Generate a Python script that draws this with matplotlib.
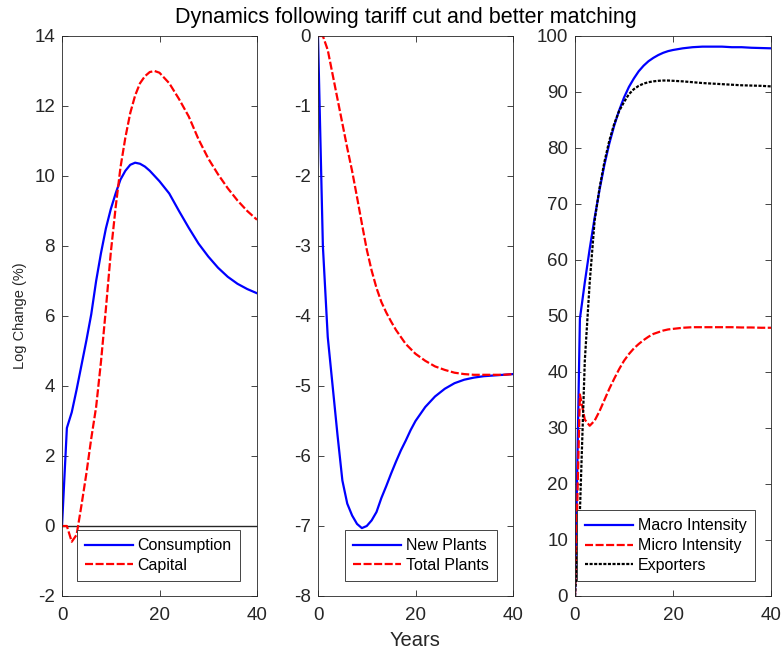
import matplotlib
matplotlib.use('Agg')
import matplotlib.pyplot as plt

plt.rcParams['font.family'] = ['Liberation Sans', 'DejaVu Sans']
plt.rcParams['axes.unicode_minus'] = False
plt.rcParams['lines.scale_dashes'] = False

# years after the tariff cut
years = [0, 1, 2, 3, 4, 5, 6, 7, 8, 9, 10, 11, 12, 13, 14, 15, 16, 17, 18, 19, 20,
         22, 24, 26, 28, 30, 32, 34, 36, 38, 40]

# panel 1
consumption = [0, 2.8, 3.25, 3.9, 4.6, 5.3, 6.05, 7.0, 7.8, 8.5, 9.05, 9.5, 9.9, 10.15, 10.32,
               10.38, 10.35, 10.27, 10.15, 10.0, 9.85, 9.5, 9.0, 8.52, 8.07, 7.7, 7.38, 7.12,
               6.92, 6.77, 6.65]
capital = [0, 0, -0.45, -0.25, 0.6, 1.5, 2.5, 3.4, 4.7, 6.2, 7.8, 9.1, 10.25, 11.1, 11.8,
           12.3, 12.65, 12.85, 12.97, 13.0, 12.95, 12.65, 12.2, 11.7, 11.05, 10.5, 10.05,
           9.65, 9.3, 9.0, 8.75]

# panel 2
new_plants = [0, -3.0, -4.3, -5.0, -5.7, -6.35, -6.68, -6.85, -6.97, -7.03, -7.0, -6.92, -6.8,
              -6.6, -6.43, -6.25, -6.08, -5.92, -5.78, -5.63, -5.5, -5.3, -5.15, -5.04, -4.96,
              -4.91, -4.88, -4.86, -4.85, -4.84, -4.83]
total_plants = [0, 0, -0.2, -0.55, -0.9, -1.25, -1.6, -1.93, -2.3, -2.68, -3.05, -3.35, -3.6,
                -3.8, -3.95, -4.08, -4.2, -4.3, -4.4, -4.47, -4.54, -4.64, -4.72, -4.77, -4.81,
                -4.83, -4.84, -4.84, -4.84, -4.84, -4.83]

# panel 3
macro_intensity = [0, 49.5, 56, 62, 67.5, 72.5, 77, 80.8, 84, 86.7, 89.0, 90.9, 92.4, 93.7, 94.7,
                   95.5, 96.1, 96.6, 97.0, 97.3, 97.5, 97.8, 98.0, 98.1, 98.1, 98.1, 98.0, 98.0,
                   97.9, 97.85, 97.8]
micro_intensity = [0, 36, 31.5, 30.4, 31.3, 33.0, 35.0, 37.0, 38.8, 40.5, 42.0, 43.2, 44.2, 45.0,
                   45.7, 46.3, 46.8, 47.1, 47.4, 47.6, 47.7, 47.9, 48.0, 48.0, 48.0, 48.0, 48.0,
                   47.95, 47.95, 47.9, 47.9]
exporters = [0, 15, 42, 56, 67, 72.8, 77.5, 81.3, 84.3, 86.6, 88.2, 89.6, 90.5, 91.1, 91.5,
             91.75, 91.9, 92.0, 92.05, 92.05, 92.0, 91.9, 91.75, 91.6, 91.5, 91.4, 91.3, 91.2,
             91.15, 91.1, 91.0]

W, H = 782, 656
axis_col = '0.15'
dash = (0, (5.8, 1.8))
dot = (0, (2.2, 1.1))
lw = 1.6

fig = plt.figure(figsize=(W / 100, H / 100), dpi=100)


def make_axes(left_px, width_px):
    ax = fig.add_axes([left_px / W, (H - 596) / H, width_px / W, 560 / H])
    for s in ax.spines.values():
        s.set_color(axis_col)
        s.set_linewidth(0.6)
    ax.tick_params(direction='in', top=True, right=True, length=4, width=0.6,
                   color=axis_col, labelcolor='0.15', labelsize=13.5, pad=5)
    ax.tick_params(axis='x', pad=8)
    ax.set_xlim(0, 40)
    ax.set_xticks([0, 20, 40])
    return ax


def add_legend(ax, x0):
    leg = ax.legend(loc='lower center', bbox_to_anchor=(x0, 0.027), borderaxespad=0,
                    fontsize=11.5, handlelength=3.0, handletextpad=0.3, labelspacing=0.3,
                    borderpad=0.5, fancybox=False, framealpha=1, edgecolor=axis_col)
    leg.get_frame().set_linewidth(0.6)
    return leg


ax1 = make_axes(62, 195)
ax1.axhline(0, color=axis_col, lw=1.0)
ax1.plot(years, consumption, color='blue', lw=lw, label='Consumption')
ax1.plot(years, capital, color='red', lw=lw, linestyle=dash, label='Capital')
ax1.set_ylim(-2, 14)
ax1.set_yticks(range(-2, 15, 2))
ax1.set_ylabel('Log Change (%)', fontsize=10.5, color='0.15', labelpad=5)
add_legend(ax1, 0.494)

ax2 = make_axes(318, 195)
ax2.plot(years, new_plants, color='blue', lw=lw, label='New Plants')
ax2.plot(years, total_plants, color='red', lw=lw, linestyle=dash, label='Total Plants')
ax2.set_ylim(-8, 0)
ax2.set_yticks(range(-8, 1))
ax2.set_xlabel('Years', fontsize=14.5, color='0.15', labelpad=5)
add_legend(ax2, 0.528)

ax3 = make_axes(575, 196)
ax3.plot(years, macro_intensity, color='blue', lw=lw, label='Macro Intensity')
ax3.plot(years, micro_intensity, color='red', lw=lw, linestyle=dash, label='Micro Intensity')
ax3.plot(years, exporters, color='black', lw=lw, linestyle=dot, label='Exporters')
ax3.set_ylim(0, 100)
ax3.set_yticks(range(0, 101, 10))
add_legend(ax3, 0.464)

fig.text(406 / W, 1 - 17 / H, 'Dynamics following tariff cut and better matching',
         ha='center', va='center', fontsize=15.5, color='black')

fig.savefig('out.png', dpi=100)
